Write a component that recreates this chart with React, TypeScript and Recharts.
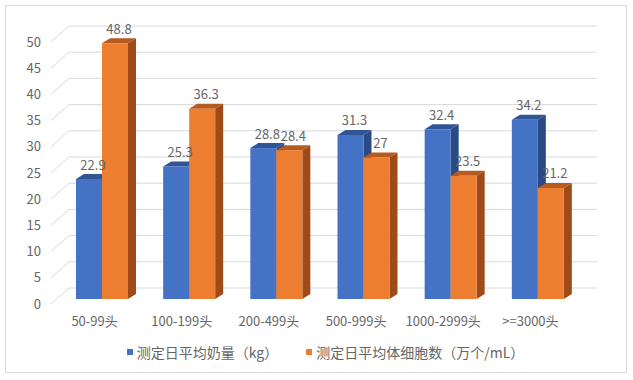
import { BarChart, Bar, XAxis, YAxis, CartesianGrid, Legend, LabelList } from 'recharts';

const categories = ['50-99头', '100-199头', '200-499头', '500-999头', '1000-2999头', '>=3000头'];
const milkYield = [22.9, 25.3, 28.8, 31.3, 32.4, 34.2];
const somaticCells = [48.8, 36.3, 28.4, 27, 23.5, 21.2];
const yTicks = [0, 5, 10, 15, 20, 25, 30, 35, 40, 45, 50];

const SERIES = [
  { key: 'milk', name: '测定日平均奶量（kg）', front: '#4472C4', top: '#2F5597', side: '#2A4A86' },
  { key: 'cells', name: '测定日平均体细胞数（万个/mL）', front: '#ED7D31', top: '#B65A1E', side: '#9E4B19' },
];

const data = categories.map((name, i) => ({ name, milk: milkYield[i], cells: somaticCells[i] }));

const FONT = '"Noto Sans CJK SC", "Noto Sans", sans-serif';
const TEXT = '#666666';
const GRID = '#D9D9D9';

// 3d offsets
const WALL_DX = 18;
const WALL_DY = 16;
const BAR_SX = 7;
const BAR_SY = -5;
const DEPTH_X = 8;
const DEPTH_Y = 5;

const gridLine = (props: any) => {
  const { x1, y1, x2 } = props;
  return (
    <g key={props.key ?? `g-${y1}`}>
      <line x1={x1} y1={y1} x2={x1 + WALL_DX} y2={y1 - WALL_DY} stroke={GRID} />
      <line x1={x1 + WALL_DX} y1={y1 - WALL_DY} x2={x2 + WALL_DX + 5} y2={y1 - WALL_DY} stroke={GRID} />
    </g>
  );
};

const makeShape = (s: (typeof SERIES)[number]) => (props: any) => {
  const { width: w, height: h } = props;
  if (!w || !h) return <g />;
  const x = props.x + BAR_SX;
  const y = props.y + BAR_SY;
  return (
    <g>
      <polygon
        points={`${x},${y} ${x + DEPTH_X},${y - DEPTH_Y} ${x + w + DEPTH_X},${y - DEPTH_Y} ${x + w},${y}`}
        fill={s.top}
      />
      <polygon
        points={`${x + w},${y} ${x + w + DEPTH_X},${y - DEPTH_Y} ${x + w + DEPTH_X},${y + h - DEPTH_Y} ${x + w},${y + h}`}
        fill={s.side}
      />
      <rect x={x} y={y} width={w} height={h} fill={s.front} />
    </g>
  );
};

const renderLabel = (props: any) => {
  const { x, y, width, value } = props;
  return (
    <text
      x={x + width / 2 + BAR_SX + 4}
      y={y + BAR_SY - 15}
      textAnchor="middle"
      dominantBaseline="central"
      fill={TEXT}
      fontSize={13}
      fontFamily={FONT}
    >
      {value}
    </text>
  );
};

const renderLegend = () => (
  <div style={{ display: 'flex', justifyContent: 'center', gap: 28, fontFamily: FONT, fontSize: 14, color: TEXT, marginLeft: 18 }}>
    {SERIES.map((s) => (
      <div key={s.key} style={{ display: 'flex', alignItems: 'center' }}>
        <span style={{ width: 6, height: 6, background: s.front, marginRight: 4, display: 'inline-block' }} />
        {s.name}
      </div>
    ))}
  </div>
);

export default function App() {
  return (
    <div style={{ position: 'absolute', left: 0, top: 0, width: 633, height: 380, background: '#fff' }}>
      <div
        style={{
          position: 'absolute',
          left: 5,
          top: 5,
          width: 620,
          height: 366,
          border: `1px solid ${GRID}`,
        }}
      />
      <div style={{ position: 'absolute', left: 0, top: 0 }}>
        <BarChart
          width={633}
          height={380}
          data={data}
          margin={{ top: 42, right: 59, left: 0, bottom: 28 }}
          barCategoryGap={18}
          barGap={0}
        >
          <CartesianGrid vertical={false} horizontal={gridLine} />
          <XAxis
            dataKey="name"
            axisLine={false}
            tickLine={false}
            tickSize={0}
            tickMargin={13}
            height={30}
            tick={{ fill: TEXT, fontSize: 13, fontFamily: FONT }}
          />
          <YAxis
            domain={[0, 50]}
            ticks={yTicks}
            axisLine={false}
            tickLine={false}
            tickSize={0}
            tickMargin={10}
            width={51}
            tick={{ fill: TEXT, fontSize: 13, fontFamily: FONT }}
          />
          <Legend
            content={renderLegend}
            verticalAlign="bottom"
            wrapperStyle={{ position: 'absolute', left: 0, top: 342, width: 633, height: 18 }}
          />
          {SERIES.map((s) => (
            <Bar key={s.key} dataKey={s.key} name={s.name} shape={makeShape(s)} isAnimationActive={false}>
              <LabelList dataKey={s.key} content={renderLabel} />
            </Bar>
          ))}
        </BarChart>
      </div>
    </div>
  );
}
